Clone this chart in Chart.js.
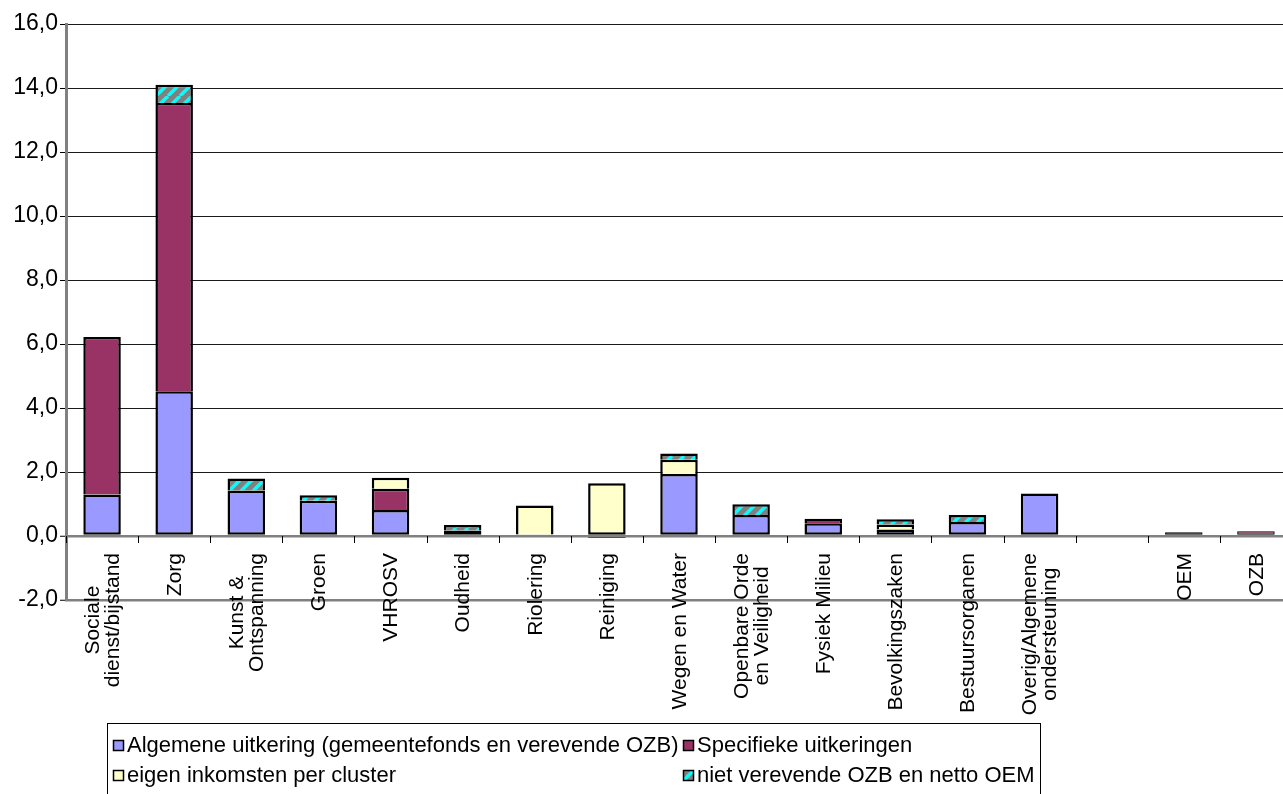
<!DOCTYPE html>
<html>
<head>
<meta charset="utf-8">
<script src="https://cdn.jsdelivr.net/npm/chart.js@4.4.1/dist/chart.umd.min.js"></script>
<style>
  html, body { margin: 0; padding: 0; overflow: hidden; background: #fff; }
  #wrap { width: 1292px; height: 794px; position: relative; }
</style>
</head>
<body>
<div id="wrap"><canvas id="c" width="1292" height="794"></canvas></div>
<script>
// Clusters (multi-line labels as arrays); the empty entry is a spacer column
const categories = [
  ['Sociale', 'dienst/bijstand'], 'Zorg', ['Kunst &', 'Ontspanning'], 'Groen', 'VHROSV',
  'Oudheid', 'Riolering', 'Reiniging', 'Wegen en Water', ['Openbare Orde', 'en Veiligheid'],
  'Fysiek Milieu', 'Bevolkingszaken', 'Bestuursorganen', ['Overig/Algemene', 'ondersteuning'],
  '', 'OEM', 'OZB'
];

const algemeneUitkering    = [1.30, 4.52, 1.42, 1.10, 0.81, 0.17, 0.05, -0.06, 1.94, 0.66, 0.40, 0.20, 0.44, 1.33, null, null, null];
const specifiekeUitkeringen = [4.92, 9.01, null, null, 0.67, null, null, null, null, null, 0.14, null, null, null, null, 0.12, 0.15];
const eigenInkomsten       = [null, null, null, null, 0.34, null, 0.90, 1.65, 0.44, null, null, 0.16, null, null, null, null, null];
const nietVerevendeOzb     = [null, 0.57, 0.38, 0.17, null, 0.17, null, null, 0.20, 0.33, null, 0.16, 0.22, null, null, null, null];

const seriesNames = [
  'Algemene uitkering (gemeentefonds en verevende OZB)',
  'Specifieke uitkeringen',
  'eigen inkomsten per cluster',
  'niet verevende OZB en netto OEM'
];

const yMin = -2, yMax = 16, yStep = 2;

const FAMILY = '"Liberation Sans", Arial, sans-serif';
const LABEL_FONT = '21px ' + FAMILY;
const LEGEND_FONT = '22px ' + FAMILY;

// grey with cyan upward diagonal stripes
function makeHatch() {
  const p = 12;
  const c = document.createElement('canvas');
  c.width = p; c.height = p;
  const g = c.getContext('2d');
  g.fillStyle = '#808080';
  g.fillRect(0, 0, p, p);
  g.strokeStyle = '#00FFFF';
  g.lineWidth = 3.5;
  for (let k = -1; k <= 1; k++) {
    g.beginPath();
    g.moveTo(k * p, p);
    g.lineTo(k * p + p, 0);
    g.stroke();
  }
  return g.createPattern(c, 'repeat');
}
const hatch = makeHatch();

const fills = ['#9999FF', '#993366', '#FFFFCC', hatch];
const seriesData = [algemeneUitkering, specifiekeUitkeringen, eigenInkomsten, nietVerevendeOzb];

// the lowest positive segment of a stack keeps its bottom border
function skipFor(ctx) {
  const i = ctx.dataIndex, d = ctx.datasetIndex;
  const v = seriesData[d][i];
  if (v == null || v < 0) return false;
  for (let k = 0; k < d; k++) {
    const w = seriesData[k][i];
    if (w != null && w > 0) return 'start';
  }
  return false;
}

// thinner outline on stacks that are only a few pixels tall, so the fill stays visible
function borderFor(ctx) {
  const i = ctx.dataIndex;
  const total = seriesData.reduce((s, arr) => s + Math.abs(arr[i] || 0), 0);
  const ys = ctx.chart.scales.y;
  const px = ys ? Math.abs(ys.getPixelForValue(0) - ys.getPixelForValue(total)) : 99;
  return px < 6 ? 1.2 : 2.5;
}

const datasets = seriesData.map((vals, d) => ({
  label: seriesNames[d],
  data: vals,
  backgroundColor: fills[d],
  borderColor: '#000',
  borderWidth: borderFor,
  borderSkipped: skipFor,
  inflateAmount: 0,
  barPercentage: 0.52,
  categoryPercentage: 1.0
}));

const decorations = {
  id: 'decorations',
  afterDatasetsDraw(chart) {
    const ctx = chart.ctx;
    const xs = chart.scales.x, ys = chart.scales.y;
    const y0 = ys.getPixelForValue(0);
    const half = (xs.getPixelForValue(1) - xs.getPixelForValue(0)) / 2;

    // category tick marks on the zero line
    ctx.save();
    ctx.strokeStyle = '#000';
    ctx.lineWidth = 1;
    for (let i = 0; i <= categories.length; i++) {
      const x = Math.round(xs.getPixelForValue(i) - half) + 0.5;
      ctx.beginPath();
      ctx.moveTo(x, y0);
      ctx.lineTo(x, y0 + 7);
      ctx.stroke();
    }

    // rotated category labels, lines centred within each block
    ctx.font = LABEL_FONT;
    ctx.fillStyle = '#000';
    ctx.textAlign = 'center';
    ctx.textBaseline = 'middle';
    const lh = 20;
    categories.forEach((lab, i) => {
      const lines = Array.isArray(lab) ? lab : [lab];
      if (!lines[0]) return;
      const maxW = Math.max(...lines.map(s => ctx.measureText(s).width));
      const cx = xs.getPixelForValue(i);
      const cy = y0 + 17 + maxW / 2;
      lines.forEach((s, j) => {
        const off = (j - (lines.length - 1) / 2) * lh;
        ctx.save();
        ctx.translate(cx + off, cy);
        ctx.rotate(-Math.PI / 2);
        ctx.fillText(s, 0, 1);
        ctx.restore();
      });
    });

    // legend: two columns, the second starts after the widest first-column entry
    ctx.font = LEGEND_FONT;
    const boxL = 107, sw = 10, gap = 4, pad = 6;
    const col1 = boxL + pad;
    const w1 = Math.max(ctx.measureText(seriesNames[0]).width, ctx.measureText(seriesNames[2]).width);
    const col2 = col1 + sw + gap + w1 + 4;
    const w2 = Math.max(ctx.measureText(seriesNames[1]).width, ctx.measureText(seriesNames[3]).width);
    const boxR = col2 + sw + gap + w2 + pad;
    ctx.strokeStyle = '#000';
    ctx.lineWidth = 1;
    ctx.strokeRect(boxL + 0.5, 723.5, Math.round(boxR - boxL), 90);
    const spots = [[col1, 745], [col2, 745], [col1, 775], [col2, 775]];
    ctx.textAlign = 'left';
    ctx.textBaseline = 'middle';
    spots.forEach(([x, y], d) => {
      x = Math.round(x);
      ctx.fillStyle = fills[d];
      ctx.fillRect(x, y - 5, sw, sw);
      ctx.strokeStyle = '#000';
      ctx.lineWidth = 1.5;
      ctx.strokeRect(x + 0.5, y - 4.5, sw, sw);
      ctx.fillStyle = '#000';
      ctx.fillText(seriesNames[d], x + sw + gap, y + 1);
    });
    ctx.restore();
  }
};

new Chart(document.getElementById('c'), {
  type: 'bar',
  data: { labels: categories, datasets },
  options: {
    responsive: false,
    devicePixelRatio: 1,
    animation: false,
    layout: { padding: { top: 24, right: 0, bottom: 0, left: 0 } },
    plugins: { legend: { display: false }, tooltip: { enabled: false } },
    scales: {
      x: {
        stacked: true,
        offset: true,
        grid: { display: false },
        border: { display: false },
        ticks: { display: false },
        afterFit(s) { s.height = 194; }
      },
      y: {
        stacked: true,
        min: yMin,
        max: yMax,
        ticks: {
          stepSize: yStep,
          color: '#000',
          font: { family: FAMILY, size: 23 },
          padding: 2,
          callback: v => v.toFixed(1).replace('.', ',')
        },
        grid: {
          color: c => (c.tick && (c.tick.value === 0 || c.tick.value === yMin)) ? '#808080' : '#1a1a1a',
          lineWidth: c => (c.tick && (c.tick.value === 0 || c.tick.value === yMin)) ? 2.5 : 1,
          tickLength: 6,
          tickColor: '#000',
          tickWidth: 1
        },
        border: { display: true, color: '#808080', width: 3 },
        afterFit(s) { s.width = 66; }
      }
    }
  },
  plugins: [decorations]
});
</script>
</body>
</html>
